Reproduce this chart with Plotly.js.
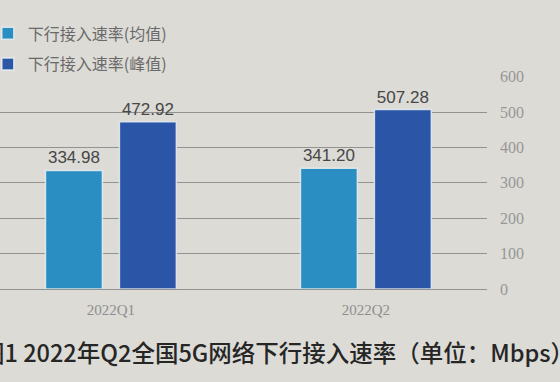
<!DOCTYPE html>
<html><head><meta charset="utf-8">
<script src="https://cdn.plot.ly/plotly-3.0.1.min.js"></script>
<style>html,body{margin:0;padding:0;background:#dcdbd6;}</style>
</head><body>
<div id="chart" style="width:560px;height:382px;"></div>
<script>
const categories = ['2022Q1', '2022Q2'];
const avgValues = [334.98, 341.20];
const peakValues = [472.92, 507.28];
const seriesNames = ['下行接入速率(均值)', '下行接入速率(峰值)'];
const yTicks = [0, 100, 200, 300, 400, 500, 600];
const captionText = '图1 2022年Q2全国5G网络下行接入速率（单位：Mbps）';

const labelFont = {family: 'Liberation Sans, Arial, sans-serif', size: 17, color: '#474747'};
const barLine = {color: 'rgba(232,238,242,0.85)', width: 1.5};
const traces = [
  {type: 'bar', name: seriesNames[0], x: categories, y: avgValues, legendgroup: 'a',
   marker: {color: '#2a8ec2', line: barLine}, texttemplate: '%{y:.2f}', textposition: 'outside',
   textfont: labelFont, cliponaxis: false},
  {type: 'bar', name: seriesNames[1], x: categories, y: peakValues, legendgroup: 'b',
   marker: {color: '#2b55a7', line: barLine}, texttemplate: '%{y:.2f}', textposition: 'outside',
   textfont: labelFont, cliponaxis: false}
];
const layout = {
  width: 560, height: 382,
  margin: {l: 0, r: 73, t: 76, b: 93, autoexpand: false},
  paper_bgcolor: '#dcdbd6', plot_bgcolor: 'rgba(0,0,0,0)',
  barmode: 'group', bargap: 0.42, bargroupgap: 0.23,
  showlegend: true,
  legend: {x: -0.025, y: 1.28, xanchor: 'left', yanchor: 'top', orientation: 'v',
           font: {family: 'Noto Sans CJK SC, sans-serif', size: 16, color: '#6a6a6a'},
           tracegroupgap: 7, bgcolor: '#dcdbd6', itemwidth: 30},
  xaxis: {type: 'category', range: [-0.435, 1.475], showgrid: false, zeroline: false,
          showline: false, ticks: '', ticklabelstandoff: 10,
          tickfont: {family: 'Liberation Serif, serif', size: 15, color: '#8e8e8e'}},
  yaxis: {side: 'right', range: [0, 602], tickvals: yTicks, ticktext: yTicks.map(String),
          showgrid: true, gridcolor: '#929292', gridwidth: 1, zeroline: true,
          zerolinecolor: '#929292', zerolinewidth: 1, showline: false, ticks: '',
          ticklabelstandoff: 12,
          tickfont: {family: 'Liberation Serif, serif', size: 16, color: '#979797'}},
  annotations: [{
    text: captionText, xref: 'paper', yref: 'paper', x: -0.043, y: -0.296,
    xanchor: 'left', yanchor: 'middle', showarrow: false,
    font: {family: 'Noto Sans CJK SC, sans-serif', size: 23.5, weight: 500, color: '#262626'}
  }]
};
Plotly.newPlot('chart', traces, layout, {displayModeBar: false, staticPlot: true});
</script>
</body></html>
